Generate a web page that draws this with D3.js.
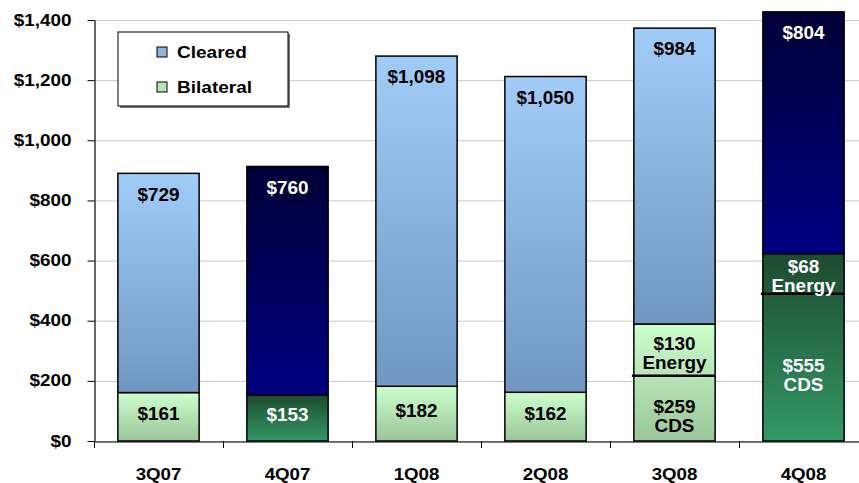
<!DOCTYPE html>
<html>
<head>
<meta charset="utf-8">
<script src="https://cdn.jsdelivr.net/npm/d3@7"></script>
<style>
  body { margin: 0; background: #fff; }
  svg { display: block; font-family: "Liberation Sans", Arial, sans-serif; font-weight: bold; }
</style>
</head>
<body>
<svg id="chart" width="859" height="483"></svg>
<script>
'use strict'
// data
var categories = ['3Q07', '4Q07', '1Q08', '2Q08', '3Q08', '4Q08']
var cleared = [729, 760, 1098, 1050, 984, 804]
var bilateral = [161, 153, 182, 162, 389, 623]
var cdsPart = [null, null, null, null, 259, 555]
var energyPart = [null, null, null, null, 130, 68]
// where the black split line sits (axis units), annotation drawn on the slide
var splitLine = [null, null, null, null, 217, 490]
var darkBar = [false, true, false, false, false, true]
var yTicks = [0, 200, 400, 600, 800, 1000, 1200, 1400]
var legendItems = ['Cleared', 'Bilateral']

var svg = d3.select('#chart')
var W = 859

var x = d3.scaleBand().domain(categories).range([94, 868])
  .paddingInner(0.37).paddingOuter(0.185)
var y = d3.scaleLinear().domain([0, 1400]).range([441, 20])
var money = d => '$' + d3.format(',')(d)

// gradients
var defs = svg.append('defs')
function grad (id, top, bottom) {
  var g = defs.append('linearGradient').attr('id', id)
    .attr('x1', 0).attr('y1', 0).attr('x2', 0).attr('y2', 1)
  g.append('stop').attr('offset', '0%').attr('stop-color', top)
  g.append('stop').attr('offset', '100%').attr('stop-color', bottom)
}
grad('gBlue', '#a0cdf8', '#6f97c1')
grad('gGreen', '#ccffcc', '#9ac59a')
grad('gNavy', '#000036', '#000082')
grad('gDkGreen', '#1c4a2e', '#339966')

// gridlines
svg.append('g').selectAll('line').data(yTicks).join('line')
  .attr('x1', 94).attr('x2', W)
  .attr('y1', d => y(d) + 0.5).attr('y2', d => y(d) + 0.5)
  .attr('stroke', '#c8c8c8').attr('stroke-width', 1)

// bars
var rows = categories.map((c, i) => ({
  c: c, i: i, cl: cleared[i], bi: bilateral[i], dark: darkBar[i]
}))
var bars = svg.append('g')
bars.selectAll('rect.bi').data(rows).join('rect').attr('class', 'bi')
  .attr('x', d => x(d.c)).attr('width', x.bandwidth())
  .attr('y', d => y(d.bi)).attr('height', d => y(0) - y(d.bi))
  .attr('fill', d => d.dark ? 'url(#gDkGreen)' : 'url(#gGreen)')
  .attr('stroke', '#000').attr('stroke-width', 1.5)
bars.selectAll('rect.cl').data(rows).join('rect').attr('class', 'cl')
  .attr('x', d => x(d.c)).attr('width', x.bandwidth())
  .attr('y', d => y(d.bi + d.cl)).attr('height', d => y(d.bi) - y(d.bi + d.cl))
  .attr('fill', d => d.dark ? 'url(#gNavy)' : 'url(#gBlue)')
  .attr('stroke', '#000').attr('stroke-width', 1.5)

// split lines
svg.append('g').selectAll('line').data(rows.filter(d => splitLine[d.i] != null)).join('line')
  .attr('x1', d => x(d.c) - 2).attr('x2', d => x(d.c) + x.bandwidth())
  .attr('y1', d => y(splitLine[d.i])).attr('y2', d => y(splitLine[d.i]))
  .attr('stroke', '#000').attr('stroke-width', 2.5)

// text helper (slide text is a bit wider than plain Arial)
function label (g, cx, cy, txt, size, color, sx) {
  g.append('text')
    .attr('transform', `translate(${cx},${cy + size * 0.35}) scale(${sx || 1},1)`)
    .attr('text-anchor', 'middle')
    .attr('font-size', size)
    .attr('fill', color)
    .text(txt)
}
var lab = svg.append('g')
rows.forEach(d => {
  var cx = x(d.c) + x.bandwidth() / 2
  var col = d.dark ? '#fff' : '#000'
  // cleared label near top of segment
  label(lab, cx, y(d.bi + d.cl) + 21, money(d.cl), 18, col, 1.05)
  if (cdsPart[d.i] == null) {
    label(lab, cx, y(d.bi / 2) - 3, money(d.bi), 18, col, 1.05)
  } else {
    var s = y(splitLine[d.i])
    var eMid = (y(d.bi) + s) / 2 + 3
    label(lab, cx, eMid - 9.5, money(energyPart[d.i]), 18, col, 1.05)
    label(lab, cx, eMid + 9.5, 'Energy', 18, col, 1.05)
    var cMid = (s + y(0)) / 2 + 8
    label(lab, cx, cMid - 9.5, money(cdsPart[d.i]), 18, col, 1.05)
    label(lab, cx, cMid + 9.5, 'CDS', 18, col, 1.05)
  }
})

// y axis
var yAxis = svg.append('g').attr('transform', 'translate(94.5,0)')
  .call(d3.axisLeft(y).tickValues(yTicks).tickSize(7).tickSizeOuter(0).tickFormat(money))
yAxis.select('.domain').attr('stroke', '#000').attr('stroke-width', 1.2)
yAxis.selectAll('.tick line').attr('stroke', '#000')
yAxis.selectAll('.tick text')
  .attr('x', 0).attr('transform', 'translate(-23,0) scale(1.18,1)')
  .attr('font-size', 16).attr('font-family', null).attr('font-weight', 'bold').attr('fill', '#000')

// x axis
var xAxis = svg.append('g').attr('transform', `translate(0,${y(0) + 0.5})`)
  .call(d3.axisBottom(x).tickSize(0).tickSizeOuter(0).tickPadding(26))
xAxis.select('.domain').attr('stroke', '#000').attr('stroke-width', 1.2)
xAxis.selectAll('.tick text')
  .attr('font-size', 17).attr('font-family', null).attr('fill', '#000')
  .attr('transform', 'scale(1.1,1)')
var bounds = categories.map(c => x(c) - (x.step() - x.bandwidth()) / 2)
bounds.push(bounds[bounds.length - 1] + x.step())
svg.append('g').selectAll('line').data(bounds).join('line')
  .attr('x1', d => Math.round(d) + 0.5).attr('x2', d => Math.round(d) + 0.5)
  .attr('y1', y(0)).attr('y2', y(0) + 7)
  .attr('stroke', '#000')

// legend
var lg = svg.append('g').attr('transform', 'translate(118,32)')
lg.append('rect').attr('x', 2).attr('y', 2).attr('width', 170).attr('height', 74).attr('fill', '#777')
lg.append('rect').attr('width', 170).attr('height', 74).attr('fill', '#fff')
  .attr('stroke', '#000').attr('stroke-width', 1)
var legFill = ['#8db4e2', '#b9e6b9']
legendItems.forEach((t, i) => {
  var ly = 20 + i * 35
  lg.append('rect').attr('x', 39).attr('y', ly - 5).attr('width', 10).attr('height', 10)
    .attr('fill', legFill[i]).attr('stroke', '#000').attr('stroke-width', 1)
  lg.append('text')
    .attr('transform', `translate(59,${ly + 6}) scale(1.12,1)`)
    .attr('font-size', 17).attr('fill', '#000').text(t)
})
</script>
</body>
</html>
